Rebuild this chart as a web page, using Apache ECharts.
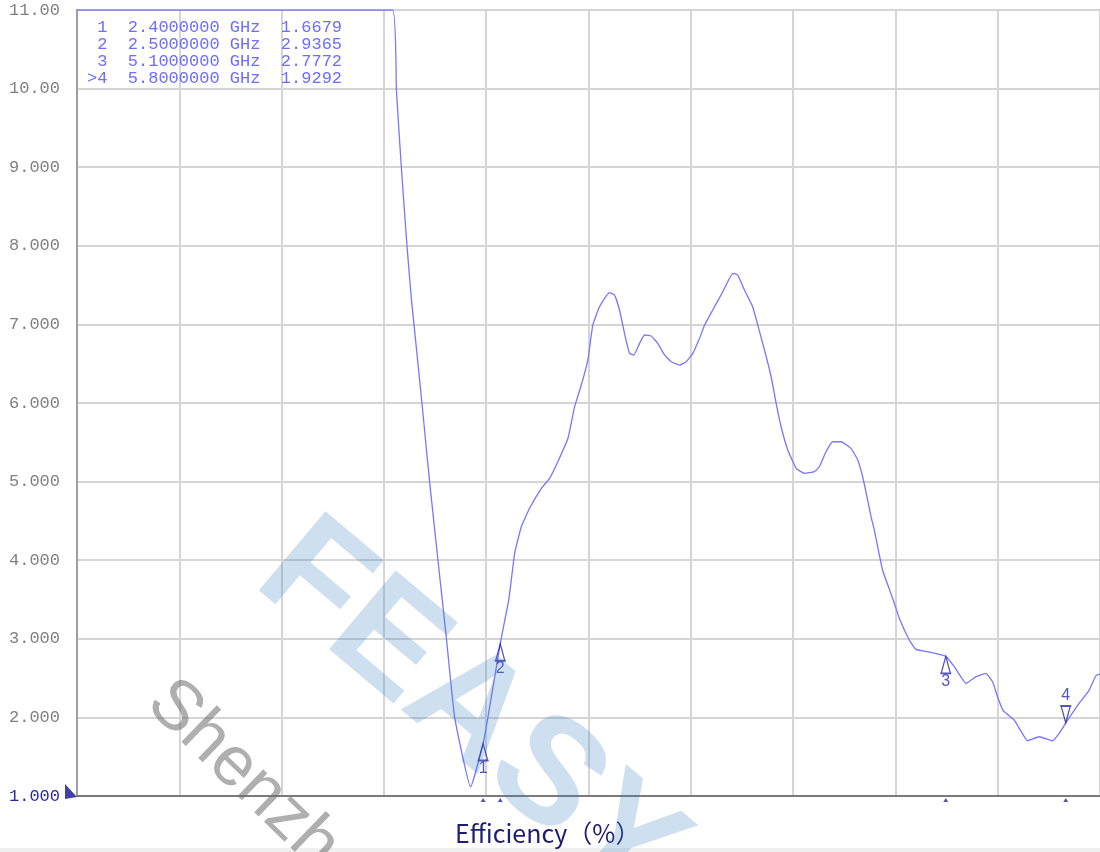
<!DOCTYPE html>
<html>
<head>
<meta charset="utf-8">
<title>VSWR</title>
<script src="https://cdn.jsdelivr.net/npm/echarts@6/dist/echarts.min.js"></script>
<style>
  html, body { margin: 0; padding: 0; background: #fff; }
  #main { width: 1100px; height: 852px; }
</style>
</head>
<body>
<div id="main"></div>
<script>
// sweep 0.03 - 6 GHz, 10 divisions
var FREQ_START = 0.03;
var FREQ_STOP = 6.0;

var freqGHz = [0.03, 1.871, 1.894, 1.923, 1.956, 1.982, 1.997, 2.043, 2.088, 2.137, 2.186, 2.234, 2.327, 2.4, 2.428, 2.5,
  2.551, 2.584, 2.623, 2.671, 2.740, 2.788, 2.836, 2.895, 2.934, 2.973, 3.011, 3.040, 3.075, 3.109, 3.138, 3.167,
  3.196, 3.225, 3.254, 3.280, 3.313, 3.342, 3.381, 3.419, 3.459, 3.498, 3.546, 3.585, 3.624, 3.663, 3.692, 3.740,
  3.799, 3.857, 3.886, 3.925, 3.973, 4.003, 4.042, 4.081, 4.110, 4.139, 4.178, 4.227, 4.275, 4.333, 4.362, 4.401,
  4.440, 4.489, 4.547, 4.586, 4.615, 4.644, 4.664, 4.683, 4.731, 4.790, 4.829, 4.887, 4.926, 5.014, 5.1, 5.150,
  5.218, 5.276, 5.334, 5.373, 5.402, 5.435, 5.499, 5.529, 5.577, 5.645, 5.723, 5.762, 5.8, 5.878, 5.937, 5.976, 6.0];

var vswr = [11, 11, 9.98, 8.99, 7.99, 7.31, 6.99, 6.00, 4.99, 3.99, 3.00, 2.00, 1.115, 1.668, 2.0, 2.937,
  3.515, 4.088, 4.426, 4.66, 4.915, 5.042, 5.253, 5.551, 5.953, 6.229, 6.547, 6.99, 7.205, 7.332, 7.403, 7.374,
  7.183, 6.887, 6.632, 6.611, 6.759, 6.865, 6.852, 6.759, 6.611, 6.525, 6.483, 6.525, 6.632, 6.823, 6.99, 7.183,
  7.416, 7.650, 7.628, 7.438, 7.225, 6.99, 6.674, 6.334, 5.996, 5.698, 5.402, 5.169, 5.105, 5.126, 5.189, 5.380,
  5.507, 5.507, 5.423, 5.275, 5.062, 4.766, 4.553, 4.384, 3.875, 3.515, 3.261, 2.984, 2.866, 2.828, 2.777, 2.645,
  2.434, 2.518, 2.561, 2.454, 2.263, 2.085, 1.967, 1.861, 1.703, 1.754, 1.703, 1.797, 1.929, 2.179, 2.348, 2.530, 2.55];

var markerNames = ['1', '2', '3', '4'];
var markerFreq = [2.4, 2.5, 5.1, 5.8];
var markerVswr = [1.6679, 2.9365, 2.7772, 1.9292];
var ACTIVE = 3;

var yTickValues = [1, 2, 3, 4, 5, 6, 7, 8, 9, 10, 11];
var yTickLabels = ['1.000', '2.000', '3.000', '4.000', '5.000', '6.000', '7.000', '8.000', '9.000', '10.00', '11.00'];

var SPAN = +(FREQ_STOP - FREQ_START).toFixed(3);
var DIV = +(SPAN / 10).toFixed(4);
var NAVY = '#2a2aa6';
var TRACE = '#7676ff';

function fx(f) { return +(f - FREQ_START).toFixed(4); }

var traceData = freqGHz.map(function (f, i) { return [fx(f), vswr[i]]; });

var upTri = 'path://M5 0 L10 16 L0 16 Z M-1 16 L11 16';
var downTri = 'path://M-1 0 L11 0 M0 0 L10 0 L5 16 Z';

var markerData = markerFreq.map(function (f, i) {
  var active = i === ACTIVE;
  return {
    name: markerNames[i],
    value: [fx(f), markerVswr[i]],
    symbol: active ? downTri : upTri,
    symbolSize: [11, 17],
    symbolOffset: [0, active ? -8.5 : 8.5],
    label: { position: active ? 'top' : 'bottom', distance: active ? 1 : -1 }
  };
});

var tableText = markerFreq.map(function (f, i) {
  return (i === ACTIVE ? '>' : ' ') + markerNames[i] + '  ' + f.toFixed(7) + ' GHz  ' + markerVswr[i].toFixed(4);
}).join('\n');

var myChart = echarts.init(document.getElementById('main'));

var option = {
  animation: false,
  backgroundColor: '#fff',
  grid: {
    left: 77, top: 10, width: 1024, height: 786,
    show: true, borderColor: '#8c8c8c', borderWidth: 1.5
  },
  xAxis: {
    type: 'value',
    min: 0,
    max: SPAN,
    interval: DIV,
    axisLabel: { show: false },
    axisTick: { show: false },
    axisLine: { show: true, onZero: false, lineStyle: { color: '#7a7a7a', width: 2 } },
    splitLine: { show: true, lineStyle: { color: '#d5d5d5', width: 2 } }
  },
  yAxis: {
    type: 'value',
    min: 1,
    max: 11,
    interval: 1,
    axisTick: { show: false },
    axisLine: { show: true, lineStyle: { color: '#8c8c8c', width: 1.5 } },
    splitLine: { show: true, lineStyle: { color: '#d5d5d5', width: 2 } },
    axisLabel: {
      margin: 17,
      color: '#808080',
      fontFamily: 'Liberation Mono',
      fontSize: 17,
      formatter: function (v) {
        var s = yTickLabels[yTickValues.indexOf(v)];
        return v === 1 ? '{ref|' + s + '}' : s;
      },
      rich: {
        ref: { color: NAVY, fontFamily: 'Liberation Mono', fontSize: 17 }
      }
    }
  },
  series: [
    {
      name: 'VSWR',
      type: 'line',
      data: traceData,
      showSymbol: false,
      smooth: 0.12,
      z: 3,
      lineStyle: { color: TRACE, width: 1.3 }
    },
    {
      name: 'markers',
      type: 'scatter',
      data: markerData,
      z: 4,
      itemStyle: { color: 'rgba(255,255,255,0)', borderColor: NAVY, borderWidth: 1.5 },
      label: {
        show: true,
        formatter: '{b}',
        color: NAVY,
        fontFamily: 'Liberation Sans',
        fontSize: 16
      }
    },
    {
      name: 'marker ticks',
      type: 'scatter',
      clip: false,
      z: 4,
      data: markerFreq.map(function (f) { return [fx(f), 1]; }),
      symbol: 'triangle',
      symbolSize: [5, 4],
      symbolOffset: [0, 4],
      itemStyle: { color: NAVY }
    },
    {
      name: 'ref level',
      type: 'scatter',
      clip: false,
      z: 5,
      data: [[0, 1]],
      symbol: 'path://M0 0 L0 15 L12 13 Z',
      symbolSize: [12, 15],
      symbolOffset: [-6, -4.5],
      itemStyle: { color: '#12128c' }
    }
  ],
  graphic: [
    {
      type: 'rect',
      shape: { x: 0, y: 848, width: 1100, height: 4 },
      style: { fill: '#f0f0f0' },
      z: 1
    },
    {
      type: 'text',
      left: 87,
      top: 19,
      z: 10,
      style: {
        text: tableText,
        fill: '#6d6dff',
        font: '17px "Liberation Mono"',
        lineHeight: 17
      }
    },
    {
      type: 'text',
      x: 455,
      y: 833,
      z: 10,
      style: {
        text: 'Efficiency（%）',
        fill: '#1e1e6e',
        font: '25px "Noto Sans CJK SC"',
        textAlign: 'left',
        textVerticalAlign: 'middle'
      }
    },
    {
      type: 'text',
      x: 278,
      y: 552,
      rotation: -0.70,
      z: 20,
      silent: true,
      style: {
        text: 'FEASY',
        fill: 'rgba(60,130,190,0.25)',
        font: 'bold 150px "Liberation Sans"',
        textAlign: 'left',
        textVerticalAlign: 'middle'
      }
    },
    {
      type: 'text',
      x: 158,
      y: 692,
      rotation: -0.77,
      z: 20,
      silent: true,
      style: {
        text: 'Shenzhen',
        fill: 'rgba(110,110,110,0.55)',
        font: '70px "Liberation Sans"',
        textAlign: 'left',
        textVerticalAlign: 'middle'
      }
    }
  ]
};

myChart.setOption(option);
</script>
</body>
</html>
